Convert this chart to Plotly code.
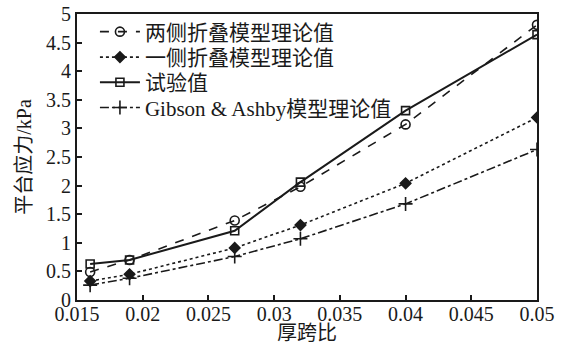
import plotly.graph_objects as go

x_vals = [0.016, 0.019, 0.027, 0.032, 0.04, 0.05]
two_side = [0.49, 0.70, 1.39, 1.98, 3.07, 4.81]
one_side = [0.33, 0.45, 0.91, 1.31, 2.04, 3.19]
experiment = [0.63, 0.70, 1.21, 2.06, 3.31, 4.64]
gibson = [0.26, 0.38, 0.76, 1.07, 1.68, 2.63]
names = ["两侧折叠模型理论值", "一侧折叠模型理论值", "试验值", "Gibson &amp; Ashby模型理论值"]
x_ticks = [0.015, 0.02, 0.025, 0.03, 0.035, 0.04, 0.045, 0.05]
x_labels = ["0.015", "0.02", "0.025", "0.03", "0.035", "0.04", "0.045", "0.05"]
y_ticks = [0, 0.5, 1, 1.5, 2, 2.5, 3, 3.5, 4, 4.5, 5]
y_labels = ["0", "0.5", "1", "1.5", "2", "2.5", "3", "3.5", "4", "4.5", "5"]

FONT = "Liberation Serif, Times New Roman, Noto Sans CJK SC, serif"
C = "#1a1a1a"

fig = go.Figure()
styles = [
    (two_side, "dash", "circle-open", 9, 1.6),
    (one_side, "dot", "diamond", 8, 1.6),
    (experiment, "solid", "square-open", 8, 2.0),
    (gibson, "dashdot", "cross-thin-open", 10, 1.6),
]
legend_ids = ["legend", "legend2", "legend3", "legend4"]
legend_y = [0.937, 0.848, 0.760, 0.672]
for (ys, dash, sym, size, w), name, lid in zip(styles, names, legend_ids):
    fig.add_trace(go.Scatter(
        x=x_vals, y=ys, name=name, mode="lines+markers", legend=lid,
        line=dict(color=C, width=w, dash=dash),
        marker=dict(symbol=sym, size=size, color=C, line=dict(color=C, width=1.6)),
    ))

legend_common = dict(x=0.039, xanchor="left", yanchor="middle",
                     bgcolor="rgba(0,0,0,0)", borderwidth=0,
                     font=dict(family=FONT, size=21, color=C), itemwidth=40)
legend_layout = {lid: dict(y=ly, **legend_common) for lid, ly in zip(legend_ids, legend_y)}

fig.update_layout(
    template="none",
    width=566, height=344,
    margin=dict(l=77, r=29, t=14, b=44, autoexpand=False),
    paper_bgcolor="white", plot_bgcolor="white",
    font=dict(family=FONT, size=20, color=C),
    showlegend=True,
    xaxis=dict(range=[0.015, 0.05], tickvals=x_ticks, ticktext=x_labels,
               automargin=False, ticklabelstandoff=-5,
               showgrid=False, zeroline=False, showline=True, linecolor=C, linewidth=2,
               mirror=True, ticks="inside", ticklen=5, tickwidth=1.5, tickcolor=C,
               title=dict(text="厚跨比", standoff=14, font=dict(family=FONT, size=20)),
               tickfont=dict(family=FONT, size=20)),
    yaxis=dict(range=[0, 5], tickvals=y_ticks, ticktext=y_labels,
               automargin=False,
               showgrid=False, zeroline=False, showline=True, linecolor=C, linewidth=2,
               mirror=True, ticks="inside", ticklen=5, tickwidth=1.5, tickcolor=C,
               title=dict(text="平台应力/kPa", standoff=9, font=dict(family=FONT, size=20)),
               tickfont=dict(family=FONT, size=20)),
    **legend_layout,
)

fig.write_html("out.html", config={"displayModeBar": False},
               post_script="document.body.style.margin='0';document.body.style.overflow='hidden';")
